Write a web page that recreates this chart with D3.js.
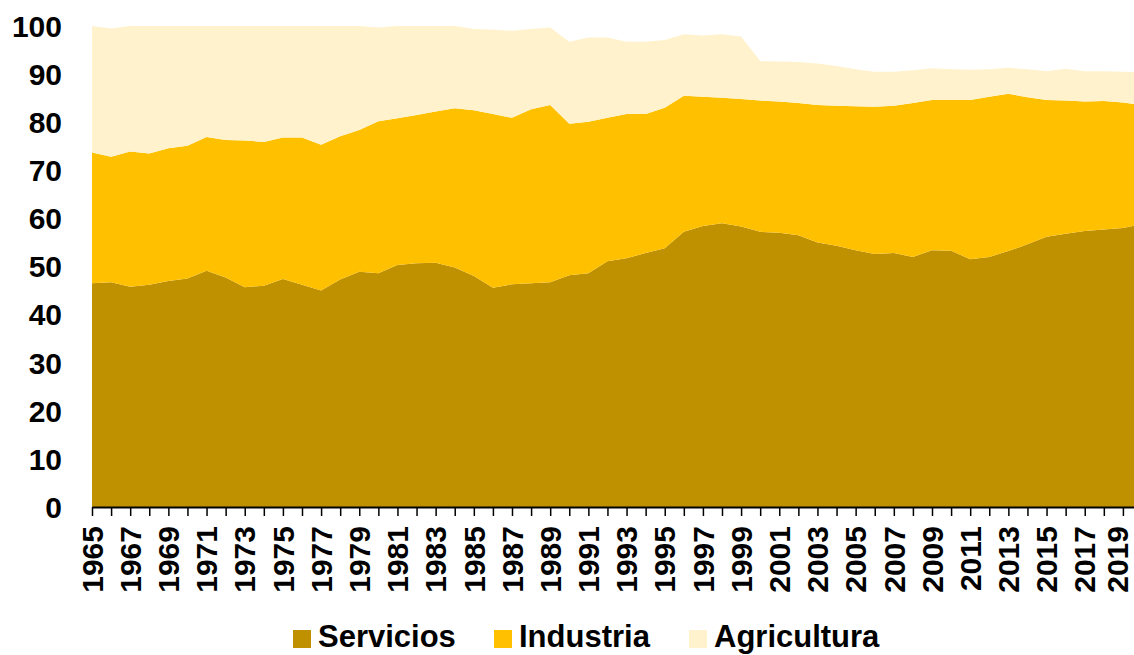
<!DOCTYPE html>
<html>
<head>
<meta charset="utf-8">
<script src="https://cdn.jsdelivr.net/npm/d3@7"></script>
<style>
  html, body { margin: 0; padding: 0; background: #fff; }
  svg { display: block; font-family: "Liberation Sans", Arial, sans-serif; font-weight: bold; }
</style>
</head>
<body>
<div id="chart"></div>
<script>
(function () {
  // Years on the x axis
  var years = d3.range(1965, 2021);

  // Share of GDP by sector (%)
  var servicios = [
    46.5, 46.7, 45.8, 46.2, 47.0, 47.5, 49.1, 47.7, 45.7, 46.0,
    47.4, 46.2, 45.0, 47.3, 48.9, 48.6, 50.3, 50.7, 50.8, 49.8,
    48.0, 45.6, 46.3, 46.5, 46.7, 48.2, 48.6, 51.1, 51.7, 52.8,
    53.8, 57.2, 58.4, 59.0, 58.3, 57.2, 57.0, 56.5, 55.0, 54.3,
    53.4, 52.6, 52.8, 52.0, 53.4, 53.3, 51.5, 52.0, 53.2, 54.6,
    56.2, 56.8, 57.4, 57.7, 58.0, 58.8
  ];
  var industria = [
    27.2, 26.1, 28.1, 27.3, 27.6, 27.6, 27.8, 28.6, 30.5, 29.9,
    29.4, 30.6, 30.3, 29.8, 29.5, 31.6, 30.5, 30.8, 31.4, 33.1,
    34.5, 36.1, 34.6, 36.2, 36.9, 31.5, 31.5, 29.8, 30.0, 28.9,
    29.2, 28.3, 26.9, 26.1, 26.5, 27.3, 27.3, 27.5, 28.6, 29.1,
    29.9, 30.6, 30.6, 32.0, 31.2, 31.3, 33.1, 33.3, 32.7, 30.6,
    28.4, 27.7, 26.9, 26.7, 26.1, 24.8
  ];
  var agricultura = [
    26.3, 26.7, 26.1, 26.5, 25.4, 24.9, 23.1, 23.7, 23.8, 24.1,
    23.2, 23.2, 24.7, 22.9, 21.6, 19.5, 19.2, 18.5, 17.8, 17.1,
    16.9, 17.5, 18.1, 16.7, 16.1, 17.0, 17.5, 16.7, 15.0, 15.0,
    14.1, 12.8, 12.7, 13.2, 13.0, 8.2, 8.3, 8.5, 8.6, 8.3,
    7.7, 7.3, 7.1, 6.8, 6.6, 6.4, 6.3, 5.7, 5.4, 5.8,
    6.0, 6.6, 6.3, 6.2, 6.4, 6.8
  ];

  var seriesNames = ["Servicios", "Industria", "Agricultura"];
  var seriesColors = ["#BF9000", "#FFC000", "#FFF2CC"];
  var yTicks = [0, 10, 20, 30, 40, 50, 60, 70, 80, 90, 100];

  var W = 1134, H = 655;

  var rows = years.map(function (yr, i) {
    return { year: yr, Servicios: servicios[i], Industria: industria[i], Agricultura: agricultura[i] };
  });

  var x = d3.scaleLinear().domain([1965, 2020]).range([92, 1142]);
  var y = d3.scaleLinear().domain([0, 100]).range([507, 26]);

  var svg = d3.select("#chart").append("svg")
    .attr("width", W)
    .attr("height", H);

  var stacked = d3.stack().keys(seriesNames)(rows);

  var area = d3.area()
    .x(function (d) { return x(d.data.year); })
    .y0(function (d) { return y(d[0]); })
    .y1(function (d) { return y(d[1]); });

  svg.append("g").selectAll("path")
    .data(stacked)
    .enter()
    .append("path")
    .attr("d", area)
    .attr("fill", function (d, i) { return seriesColors[i]; });

  // Y labels only (no axis line)
  svg.append("g").selectAll("text")
    .data(yTicks)
    .enter()
    .append("text")
    .attr("x", 62)
    .attr("y", function (d) { return y(d); })
    .attr("dy", "0.36em")
    .attr("text-anchor", "end")
    .style("font-size", "30px")
    .style("fill", "#000")
    .text(function (d) { return d; });

  // X axis: tick per year, label every other year
  var xAxis = d3.axisBottom(x)
    .tickValues(years)
    .tickSize(9)
    .tickSizeOuter(0)
    .tickPadding(0)
    .tickFormat(function (d) { return (d - 1965) % 2 === 0 ? d : ""; });

  var gx = svg.append("g")
    .attr("transform", "translate(0," + y(0) + ")")
    .call(xAxis);

  gx.select(".domain").attr("stroke", "#000").attr("stroke-width", 2);
  gx.selectAll(".tick line").attr("stroke", "#000").attr("stroke-width", 1.5);
  gx.selectAll(".tick text")
    .attr("transform", "rotate(-90)")
    .attr("x", -19)
    .attr("y", 0)
    // last label sits on the right edge, pull it in a little
    .attr("dy", function (d) { return d === 2019 ? "0.15em" : "0.34em"; })
    .style("text-anchor", "end")
    .style("font-size", "30px")
    .style("font-family", "\"Liberation Sans\", Arial, sans-serif")
    .style("font-weight", "bold")
    .style("fill", "#000");

  // Legend
  var legendX = [293, 494, 689];
  var legend = svg.append("g").selectAll("g")
    .data(seriesNames)
    .enter()
    .append("g")
    .attr("transform", function (d, i) { return "translate(" + legendX[i] + ",630)"; });

  legend.append("rect")
    .attr("width", 18)
    .attr("height", 18)
    .attr("fill", function (d, i) { return seriesColors[i]; });

  legend.append("text")
    .attr("x", 25)
    .attr("y", 17)
    .style("font-size", "31px")
    .style("fill", "#000")
    .text(function (d) { return d; });
})();
</script>
</body>
</html>
